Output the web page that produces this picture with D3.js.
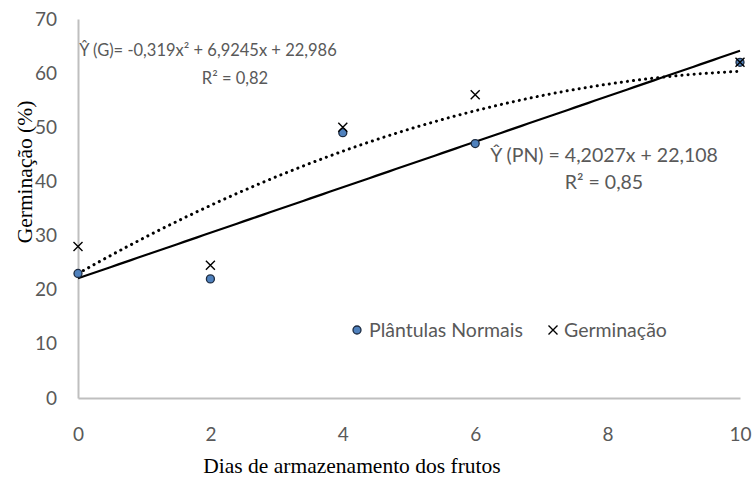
<!DOCTYPE html>
<html><head><meta charset="utf-8">
<script src="https://cdn.jsdelivr.net/npm/d3@7"></script>
<style>body{margin:0;background:#fff;} svg{display:block;}</style>
</head><body>
<svg id="c" width="752" height="479"></svg>
<script>
const days = [0, 2, 4, 6, 10];
const plantulasNormais = [23, 22, 49, 47, 62];
const germinacao = [28, 24.5, 50, 56, 62];
const xTicks = [0, 2, 4, 6, 8, 10];
const yTicks = [0, 10, 20, 30, 40, 50, 60, 70];
const pnCoef = {a: 4.2027, b: 22.108};
const gCoef = {a: -0.319, b: 6.9245, c: 22.986};
const eqG = ["Ŷ (G)= -0,319x² + 6,9245x + 22,986", "R² = 0,82"];
const eqPN = ["Ŷ (PN) = 4,2027x + 22,108", "R² = 0,85"];
const seriesNames = ["Plântulas Normais", "Germinação"];

const svg = d3.select("#c");
const x = d3.scaleLinear().domain([0, 10]).range([78, 740]);
const y = d3.scaleLinear().domain([0, 70]).range([398, 19]);
const sans = "Lato, 'Open Sans', sans-serif";
const serif = "'Liberation Serif', 'Times New Roman', serif";
const grey = "#595959";

// axes
const ya = svg.append("g").attr("transform", "translate(78,0)")
  .call(d3.axisLeft(y).tickValues(yTicks).tickSize(0).tickPadding(21));
const xa = svg.append("g").attr("transform", "translate(0,398)")
  .call(d3.axisBottom(x).tickValues(xTicks).tickSize(0).tickPadding(30));
[ya, xa].forEach(g => {
  g.select(".domain").attr("stroke", "#bfbfbf").attr("stroke-width", 2);
  g.selectAll("text").attr("fill", grey).style("font-family", sans).style("font-size", "19px");
});

// axis titles
svg.append("text").attr("x", 352).attr("y", 473).attr("text-anchor", "middle")
  .style("font-family", serif).style("font-size", "21.5px")
  .attr("fill", "#000").text("Dias de armazenamento dos frutos");
svg.append("text").attr("transform", "translate(32,172) rotate(-90)").attr("text-anchor", "middle")
  .style("font-family", serif).style("font-size", "21.5px")
  .attr("fill", "#000").text("Germinação (%)");

// trendlines
const xs = d3.range(0, 10.001, 0.1);
svg.append("path").datum(xs)
  .attr("d", d3.line().x(d => x(d)).y(d => y(pnCoef.a * d + pnCoef.b)))
  .attr("fill", "none").attr("stroke", "#000").attr("stroke-width", 2.2);
svg.append("path").datum(xs)
  .attr("d", d3.line().x(d => x(d)).y(d => y(gCoef.a * d * d + gCoef.b * d + gCoef.c)))
  .attr("fill", "none").attr("stroke", "#000").attr("stroke-width", 3)
  .attr("stroke-linecap", "round").attr("stroke-dasharray", "0.1 6");

// markers
svg.append("g").selectAll("circle").data(days).join("circle")
  .attr("cx", (d) => x(d)).attr("cy", (d, i) => y(plantulasNormais[i])).attr("r", 4)
  .attr("fill", "#4f81bd").attr("stroke", "#1d2b40").attr("stroke-width", 1.3);
const xm = (g, cx, cy, s) => {
  g.append("path").attr("d", `M${cx - s},${cy - s}L${cx + s},${cy + s}M${cx - s},${cy + s}L${cx + s},${cy - s}`)
    .attr("stroke", "#000").attr("stroke-width", 1.4).attr("fill", "none");
};
const gx = svg.append("g");
days.forEach((d, i) => xm(gx, x(d), y(germinacao[i]), 4.5));

// equations
const eq = (lines, cxs, ys_, size) => {
  lines.forEach((t, i) => svg.append("text").attr("x", cxs[i]).attr("y", ys_[i])
    .attr("text-anchor", "middle")
    .attr("fill", grey).style("font-family", sans).style("font-size", size + "px").text(t));
};
eq(eqG, [208, 235], [56, 84], 16.5);
eq(eqPN, [604, 604], [162, 189], 19.5);

// legend
const lg = svg.append("g");
lg.append("circle").attr("cx", 357).attr("cy", 330).attr("r", 4)
  .attr("fill", "#4f81bd").attr("stroke", "#1d2b40").attr("stroke-width", 1.3);
lg.append("text").attr("x", 369).attr("y", 337).attr("fill", grey)
  .style("font-family", sans).style("font-size", "19.5px").text(seriesNames[0]);
xm(lg, 553, 330, 4.5);
lg.append("text").attr("x", 564).attr("y", 337).attr("fill", grey)
  .style("font-family", sans).style("font-size", "19.5px").text(seriesNames[1]);
</script>
</body></html>
